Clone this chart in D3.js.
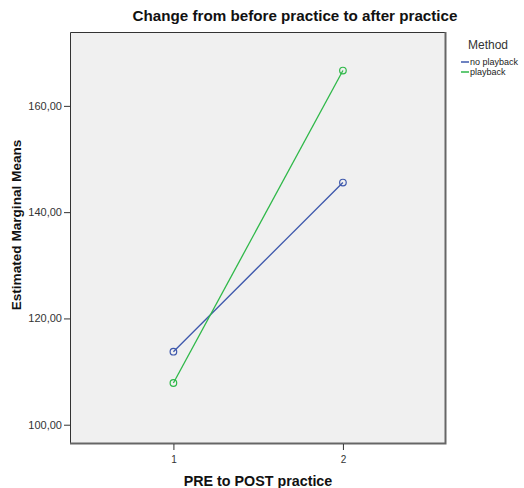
<!DOCTYPE html>
<html>
<head>
<meta charset="utf-8">
<script src="https://cdn.jsdelivr.net/npm/d3@7"></script>
<style>
  html, body { margin: 0; padding: 0; background: #fff; }
  svg { display: block; font-family: "Liberation Sans", Arial, sans-serif; }
</style>
</head>
<body>
<svg id="chart" width="524" height="488"></svg>
<script>
// Time points (1 = before practice, 2 = after practice)
const timePoints = [1, 2];
const methods = ["no playback", "playback"];
const noPlayback = [113.74, 145.57];
const playback = [107.85, 166.65];
const yTicks = [100, 120, 140, 160];
const colors = ["#3E58AC", "#2EB848"];

const seriesList = [
  { name: methods[0], values: noPlayback, color: colors[0] },
  { name: methods[1], values: playback, color: colors[1] }
];

const svg = d3.select("#chart");
const plot = { left: 70, top: 32, right: 446, bottom: 444 };

const x = d3.scaleLinear().domain([0.39, 2.608]).range([plot.left, plot.right]);
const y = d3.scaleLinear().domain([96.37, 173.9]).range([plot.bottom, plot.top]);

// Plot area background
svg.append("rect")
  .attr("x", plot.left).attr("y", plot.top)
  .attr("width", plot.right - plot.left).attr("height", plot.bottom - plot.top)
  .attr("fill", "#F0F0F0");

// Series lines with hollow circle markers
const line = d3.line().x((d, i) => x(timePoints[i])).y(d => y(d));
seriesList.forEach(s => {
  svg.append("path")
    .attr("d", line(s.values))
    .attr("fill", "none")
    .attr("stroke", s.color)
    .attr("stroke-width", 1.3);
  svg.selectAll(null).data(s.values).enter().append("circle")
    .attr("cx", (d, i) => x(timePoints[i]))
    .attr("cy", d => y(d))
    .attr("r", 3.3)
    .attr("fill", "none")
    .attr("stroke", s.color)
    .attr("stroke-width", 1.2);
});

// Frame: dark top/left, heavier grey right/bottom
svg.append("path")
  .attr("d", `M${plot.left + 0.5},${plot.bottom}V${plot.top + 0.5}H${plot.right}`)
  .attr("fill", "none").attr("stroke", "#333").attr("stroke-width", 1);
svg.append("path")
  .attr("d", `M${plot.left},${plot.bottom - 0.5}H${plot.right - 0.5}V${plot.top}`)
  .attr("fill", "none").attr("stroke", "#666").attr("stroke-width", 2);

// Y axis
const yAxis = d3.axisLeft(y)
  .tickValues(yTicks)
  .tickSize(6)
  .tickPadding(2)
  .tickFormat(d => d3.format(".2f")(d).replace(".", ","));
const gy = svg.append("g")
  .attr("transform", `translate(${plot.left},0)`)
  .call(yAxis);
gy.select(".domain").remove();
gy.selectAll(".tick line").attr("stroke", "#333");
gy.selectAll(".tick text").attr("font-size", 11).attr("fill", "#333")
  .attr("font-family", "\"Liberation Sans\", Arial, sans-serif");

// X axis
const xAxis = d3.axisBottom(x)
  .tickValues(timePoints)
  .tickSize(6)
  .tickPadding(6)
  .tickFormat(d3.format("d"));
const gx = svg.append("g")
  .attr("transform", `translate(0,${plot.bottom})`)
  .call(xAxis);
gx.select(".domain").remove();
gx.selectAll(".tick line").attr("stroke", "#333");
gx.selectAll(".tick text").attr("font-size", 10).attr("fill", "#333")
  .attr("font-family", "\"Liberation Sans\", Arial, sans-serif");

// Title and axis titles
svg.append("text")
  .attr("x", 295).attr("y", 21)
  .attr("text-anchor", "middle")
  .attr("font-size", 15.2).attr("font-weight", "bold").attr("fill", "#111")
  .text("Change from before practice to after practice");

svg.append("text")
  .attr("x", 258).attr("y", 486)
  .attr("text-anchor", "middle")
  .attr("font-size", 14.3).attr("font-weight", "bold").attr("fill", "#111")
  .text("PRE to POST practice");

svg.append("text")
  .attr("transform", "translate(21,225) rotate(-90)")
  .attr("text-anchor", "middle")
  .attr("font-size", 13.6).attr("font-weight", "bold").attr("fill", "#111")
  .text("Estimated Marginal Means");

// Legend
svg.append("text")
  .attr("x", 468).attr("y", 49)
  .attr("font-size", 12).attr("fill", "#333")
  .text("Method");
const legend = svg.selectAll(".legend-item").data(seriesList).enter().append("g")
  .attr("class", "legend-item")
  .attr("transform", (d, i) => `translate(461,${62 + i * 10})`);
legend.append("line")
  .attr("x1", 0).attr("x2", 8)
  .attr("stroke", d => d.color).attr("stroke-width", 1.5);
legend.append("text")
  .attr("x", 9).attr("y", 3)
  .attr("font-size", 9).attr("fill", "#222")
  .text(d => d.name);
</script>
</body>
</html>
